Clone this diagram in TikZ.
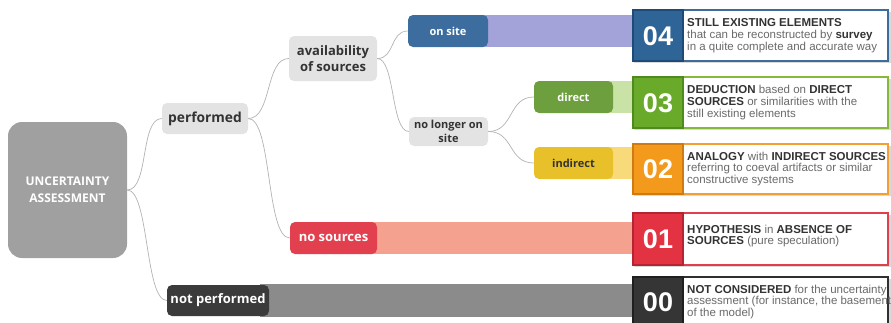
\documentclass[tikz,border=0pt]{standalone}
\usepackage{fontspec}
\setmainfont{Liberation Sans}
\newfontfamily\osans{Open Sans}
\definecolor{ungray}{HTML}{A0A0A0}
\definecolor{lgray}{HTML}{E3E3E3}
\definecolor{dtext}{HTML}{333333}
\definecolor{ptext}{HTML}{6A6A6A}
\definecolor{blueN}{HTML}{3D6D9E}
\definecolor{blueBar}{HTML}{A3A3DA}
\definecolor{greenN}{HTML}{6E9F3F}
\definecolor{greenBar}{HTML}{C9E3A6}
\definecolor{yellowN}{HTML}{E8C12A}
\definecolor{yellowBar}{HTML}{F9DA7A}
\definecolor{redN}{HTML}{E2404F}
\definecolor{redBar}{HTML}{F5A190}
\definecolor{darkN}{HTML}{3B3B3B}
\definecolor{darkBar}{HTML}{8B8B8B}
\definecolor{nbF4}{HTML}{2F6497}\definecolor{nbD4}{HTML}{1E4A78}\definecolor{pb4}{HTML}{3C6C9C}
\definecolor{nbF3}{HTML}{6AAA2A}\definecolor{nbD3}{HTML}{4E8A1E}\definecolor{pb3}{HTML}{86B83A}
\definecolor{nbF2}{HTML}{F39A1C}\definecolor{nbD2}{HTML}{D07A12}\definecolor{pb2}{HTML}{F2A033}
\definecolor{nbF1}{HTML}{E33242}\definecolor{nbD1}{HTML}{B52433}\definecolor{pb1}{HTML}{E0404E}
\definecolor{nbF0}{HTML}{353535}\definecolor{nbD0}{HTML}{1F1F1F}\definecolor{pb0}{HTML}{303030}
\newcommand\bt[1]{\textbf{\color{dtext}#1}}
\tikzset{
  mm/.style={rounded corners=5pt, inner sep=0pt, align=center, font=\osans\bfseries\fontsize{13}{15}\selectfont},
  light/.style={mm, fill=lgray, text=dtext},
  conn/.style={draw=black!30, line width=0.7pt},
  ptxt/.style={anchor=west, align=left, inner sep=0pt, text=ptext, font=\fontsize{11.5}{11.7}\selectfont},
  num/.style={text=white, inner sep=0pt, font=\bfseries\fontsize{27}{28}\selectfont}
}
\begin{document}
\begin{tikzpicture}[x=1pt,y=-1pt]
\useasboundingbox (0,0) rectangle (891,322);
\clip (0,0) rectangle (891,322);
% bars
\fill[blueBar] (480,15) rectangle (633,47);
\fill[greenBar] (605,81) rectangle (633,113);
\fill[yellowBar] (605,147) rectangle (633,179);
\fill[redBar] (370,222) rectangle (633,254);
\fill[darkBar] (260,284) rectangle (633,317);
% panels
\foreach \t/\b/\k in {10/61/4, 77/128/3, 144/194/2, 213/265/1, 277/328/0}{
  \fill[black!15] (634,\t+2) rectangle (891,\b+2);
  \filldraw[fill=white, draw=pb\k, line width=1.5pt] (633,\t) rectangle (888,\b);
  \filldraw[fill=nbF\k, draw=nbD\k, line width=1.5pt] (633,\t) rectangle (683,\b);
}
\node[num] (n4) at (658,36) {04};
\node[num] (n3) at (658,103) {03};
\node[num] (n2) at (658,169.5) {02};
\node[num] (n1) at (658,239.5) {01};
\node[num] (n0) at (658,302.5) {00};
\node[ptxt] (t4) at (687,35.5) {\bt{STILL EXISTING ELEMENTS}\\that can be reconstructed by \bt{survey}\\in a quite complete and accurate way};
\node[ptxt] (t3) at (687,102.5) {\bt{DEDUCTION} based on \bt{DIRECT}\\\bt{SOURCES} or similarities with the\\still existing elements};
\node[ptxt] (t2) at (687,169) {\bt{ANALOGY} with \bt{INDIRECT SOURCES}\\referring to coeval artifacts or similar\\constructive systems};
\node[ptxt] (t1) at (687,236) {\bt{HYPOTHESIS} in \bt{ABSENCE OF}\\\bt{SOURCES} (pure speculation)};
\node[ptxt] (t0) at (687,302) {\bt{NOT CONSIDERED} for the uncertainty\\assessment (for instance, the basement\\of the model)};
% mind map nodes
\node[mm, rounded corners=14pt, fill=ungray, text=white, minimum width=119pt, minimum height=136pt, font=\osans\bfseries\fontsize{12}{17}\selectfont] (unc) at (67.5,190) {UNCERTAINTY\\ASSESSMENT};
\node[light, minimum width=86pt, minimum height=31pt, font=\osans\bfseries\fontsize{13.8}{15}\selectfont] (perf) at (205,118.5) {performed};
\node[mm, fill=darkN, text=white, minimum width=102pt, minimum height=31pt] (notp) at (218,300.5) {not performed};
\node[light, minimum width=88pt, minimum height=45pt, font=\osans\bfseries\fontsize{13}{16}\selectfont] (avail) at (333,58.5) {availability\\of sources};
\node[mm, fill=redN, text=white, minimum width=87pt, minimum height=32pt] (nos) at (333.5,238) {no sources};
\node[mm, fill=blueN, text=white, minimum width=80pt, minimum height=32pt, font=\osans\bfseries\fontsize{11}{13}\selectfont] (onsite) at (448,31) {on site};
\node[light, minimum width=79pt, minimum height=29pt, font=\osans\bfseries\fontsize{11}{14}\selectfont] (nolong) at (448.5,131.5) {no longer on\\site};
\node[mm, fill=greenN, text=white, minimum width=79pt, minimum height=32pt, font=\osans\bfseries\fontsize{11}{13}\selectfont] (direct) at (573.5,97) {direct};
\node[mm, fill=yellowN, text=dtext, minimum width=79pt, minimum height=32pt, font=\osans\bfseries\fontsize{11}{13}\selectfont] (indir) at (573.5,163) {indirect};
% connectors
\draw[conn] (unc.east) .. controls +(22,0) and +(-22,0) .. (perf.west);
\draw[conn] (unc.east) .. controls +(22,0) and +(-22,0) .. (notp.west);
\draw[conn] (perf.east) .. controls +(24,0) and +(-24,0) .. (avail.west);
\draw[conn] (perf.east) .. controls +(24,0) and +(-24,0) .. (nos.west);
\draw[conn] (avail.east) .. controls +(18,0) and +(-18,0) .. (onsite.west);
\draw[conn] (avail.east) .. controls +(18,0) and +(-18,0) .. (nolong.west);
\draw[conn] (nolong.east) .. controls +(26,0) and +(-26,0) .. (direct.west);
\draw[conn] (nolong.east) .. controls +(26,0) and +(-26,0) .. (indir.west);
\end{tikzpicture}
\end{document}
